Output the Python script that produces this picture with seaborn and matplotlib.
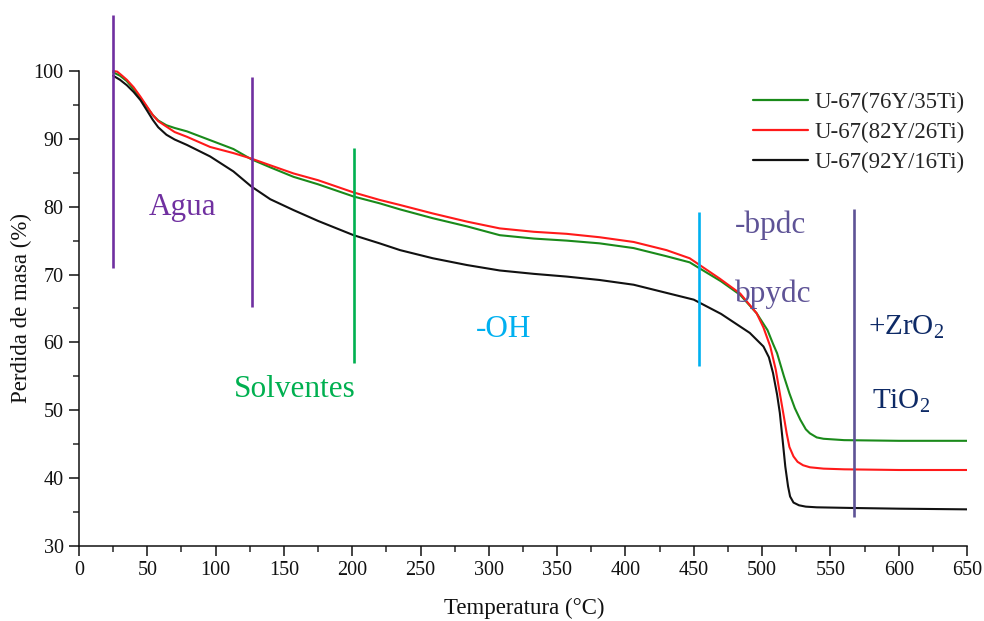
import numpy as np
import pandas as pd
import matplotlib
matplotlib.use("Agg")
import matplotlib.pyplot as plt
from matplotlib.ticker import FixedLocator, MultipleLocator
import seaborn as sns

# TGA curves: temperature (°C) and remaining mass (%)
temp_76y = [25, 30, 35, 40, 45, 50, 54, 58, 64, 70, 79, 96, 113, 126, 140, 157, 175,
            201, 220, 235, 259, 284, 308, 333, 357, 381, 406, 430, 447, 470, 484, 496,
            504, 508, 511, 516, 520, 524, 528, 532, 535, 540, 545, 560, 600, 650]
mass_76y = [99.8, 99.3, 98.5, 97.3, 96.0, 94.6, 93.5, 92.7, 92.0, 91.6, 91.1, 89.8,
            88.5, 87.0, 85.8, 84.4, 83.3, 81.5, 80.5, 79.6, 78.3, 77.1, 75.8, 75.3,
            75.0, 74.6, 73.9, 72.7, 71.8, 69.0, 67.0, 64.3, 61.8, 59.8, 58.4, 55.0,
            52.5, 50.3, 48.6, 47.2, 46.6, 46.0, 45.8, 45.6, 45.5, 45.5]

temp_82y = [25, 28, 31, 35, 40, 45, 50, 54, 58, 64, 70, 79, 96, 113, 126, 140, 157,
            175, 201, 220, 235, 259, 284, 308, 333, 357, 381, 406, 430, 447, 469, 484,
            496, 501, 506, 510, 513, 516, 518, 520, 523, 526, 530, 535, 545, 560, 600,
            650]
mass_82y = [100.0, 99.9, 99.4, 98.7, 97.6, 96.2, 94.7, 93.5, 92.6, 91.8, 91.0, 90.3,
            88.8, 87.9, 87.1, 86.1, 84.9, 83.9, 82.1, 81.0, 80.25, 79.0, 77.8, 76.8,
            76.3, 76.0, 75.5, 74.8, 73.6, 72.4, 69.4, 67.2, 64.3, 62.2, 59.4, 56.0,
            52.5, 49.0, 46.6, 44.6, 43.2, 42.4, 41.9, 41.6, 41.4, 41.3, 41.2, 41.2]

temp_92y = [25, 30, 35, 40, 45, 50, 54, 58, 64, 70, 79, 96, 113, 126, 140, 157, 175,
            201, 220, 235, 259, 284, 308, 333, 357, 381, 406, 430, 450, 470, 491, 501,
            505, 508, 511, 513, 515, 517, 519, 520.5, 523, 527, 532, 540, 567, 600, 650]
mass_92y = [99.3, 98.7, 97.9, 96.9, 95.7, 94.1, 92.8, 91.7, 90.6, 89.9, 89.1, 87.4,
            85.2, 83.0, 81.1, 79.5, 77.9, 75.8, 74.6, 73.6, 72.4, 71.4, 70.6, 70.1,
            69.7, 69.2, 68.5, 67.3, 66.3, 64.2, 61.4, 59.4, 57.8, 55.5, 52.3, 49.6,
            45.7, 41.7, 38.8, 37.3, 36.4, 36.0, 35.8, 35.7, 35.6, 35.5, 35.4]

series_names = ["U-67(76Y/35Ti)", "U-67(82Y/26Ti)", "U-67(92Y/16Ti)"]
series_colors = ["#1a8a1a", "#ff1a1a", "#111111"]

# Stage markers: x position, y start, y end, colour
marker_x = [25, 126.6, 201.3, 454, 567]
marker_y0 = [71.0, 65.2, 57.0, 56.5, 34.3]
marker_y1 = [108.3, 99.1, 88.6, 79.2, 79.7]
marker_colors = ["#7030A0", "#7030A0", "#00B050", "#00B0F0", "#5E5396"]

# Stage labels
label_texts = ["Agua", "Solventes", "-OH", "-bpdc", "bpydc",
               "+ZrO$_\\mathregular{2}$", "TiO$_\\mathregular{2}$"]
label_x = [75.8, 158, 311, 480, 480, 577.6, 580.5]
label_y = [78.8, 52.0, 60.85, 76.1, 65.9, 61.2, 50.3]
label_ha = ["center", "center", "center", "left", "left", "left", "left"]
label_colors = ["#7030A0", "#00B050", "#00B0F0", "#5E5396", "#5E5396",
                "#0E2A66", "#0E2A66"]
label_sizes = [22.5, 22.5, 22.5, 22.5, 22.5, 21, 21]

frames = []
for name, t, m in zip(series_names, [temp_76y, temp_82y, temp_92y],
                      [mass_76y, mass_82y, mass_92y]):
    frames.append(pd.DataFrame({"Temperatura": t, "Masa": m, "Muestra": name}))
df = pd.concat(frames, ignore_index=True)

sns.set_theme(style="ticks")
plt.rcParams["font.family"] = ["Liberation Serif", "DejaVu Serif"]
plt.rcParams["mathtext.fontset"] = "custom"
plt.rcParams["mathtext.rm"] = "Liberation Serif"

fig = plt.figure(figsize=(9.84, 6.21), dpi=100)
ax = fig.add_axes([79 / 984, 75 / 621, 888 / 984, (546 - 3.1) / 621])

sns.lineplot(data=df, x="Temperatura", y="Masa", hue="Muestra",
             hue_order=series_names, palette=series_colors, sort=False,
             estimator=None, linewidth=1.5, ax=ax)

for x, y0, y1, c in zip(marker_x, marker_y0, marker_y1, marker_colors):
    ax.plot([x, x], [y0, y1], color=c, linewidth=1.9, solid_capstyle="butt",
            zorder=3, clip_on=False)

for txt, x, y, ha, c, s in zip(label_texts, label_x, label_y, label_ha,
                               label_colors, label_sizes):
    ax.text(x, y, txt, ha=ha, va="baseline", color=c, fontsize=s)

ax.set_xlim(0, 650)
ax.set_ylim(30, 110)
ax.xaxis.set_major_locator(MultipleLocator(50))
ax.xaxis.set_minor_locator(MultipleLocator(25))
ax.yaxis.set_major_locator(FixedLocator(np.arange(30, 101, 10)))
ax.yaxis.set_minor_locator(FixedLocator(np.arange(35, 100, 10)))
ax.tick_params(which="major", direction="out", length=7, width=1.1,
               labelsize=14.5, colors="#111111", pad=4)
ax.tick_params(which="minor", direction="out", length=4, width=1.1)

sns.despine(ax=ax)
ax.spines["left"].set_bounds(30, 100)
for side in ["left", "bottom"]:
    ax.spines[side].set_linewidth(1.1)
    ax.spines[side].set_color("#111111")

ax.set_xlabel("Temperatura (°C)", fontsize=16.5, color="#111111")
ax.set_ylabel("Perdida de masa (%)", fontsize=16.5, color="#111111")
ax.xaxis.set_label_coords(0.501, -0.096)
ax.yaxis.set_label_coords(-0.053, 0.438)

leg = ax.legend(loc="upper left", bbox_to_anchor=(0.759, 0.836), frameon=False,
                fontsize=16.5, handlelength=2.4, handletextpad=0.3,
                labelspacing=0.38, borderpad=0, borderaxespad=0)
for line in leg.get_lines():
    line.set_linewidth(1.6)

fig.savefig("out.png", dpi=100)
